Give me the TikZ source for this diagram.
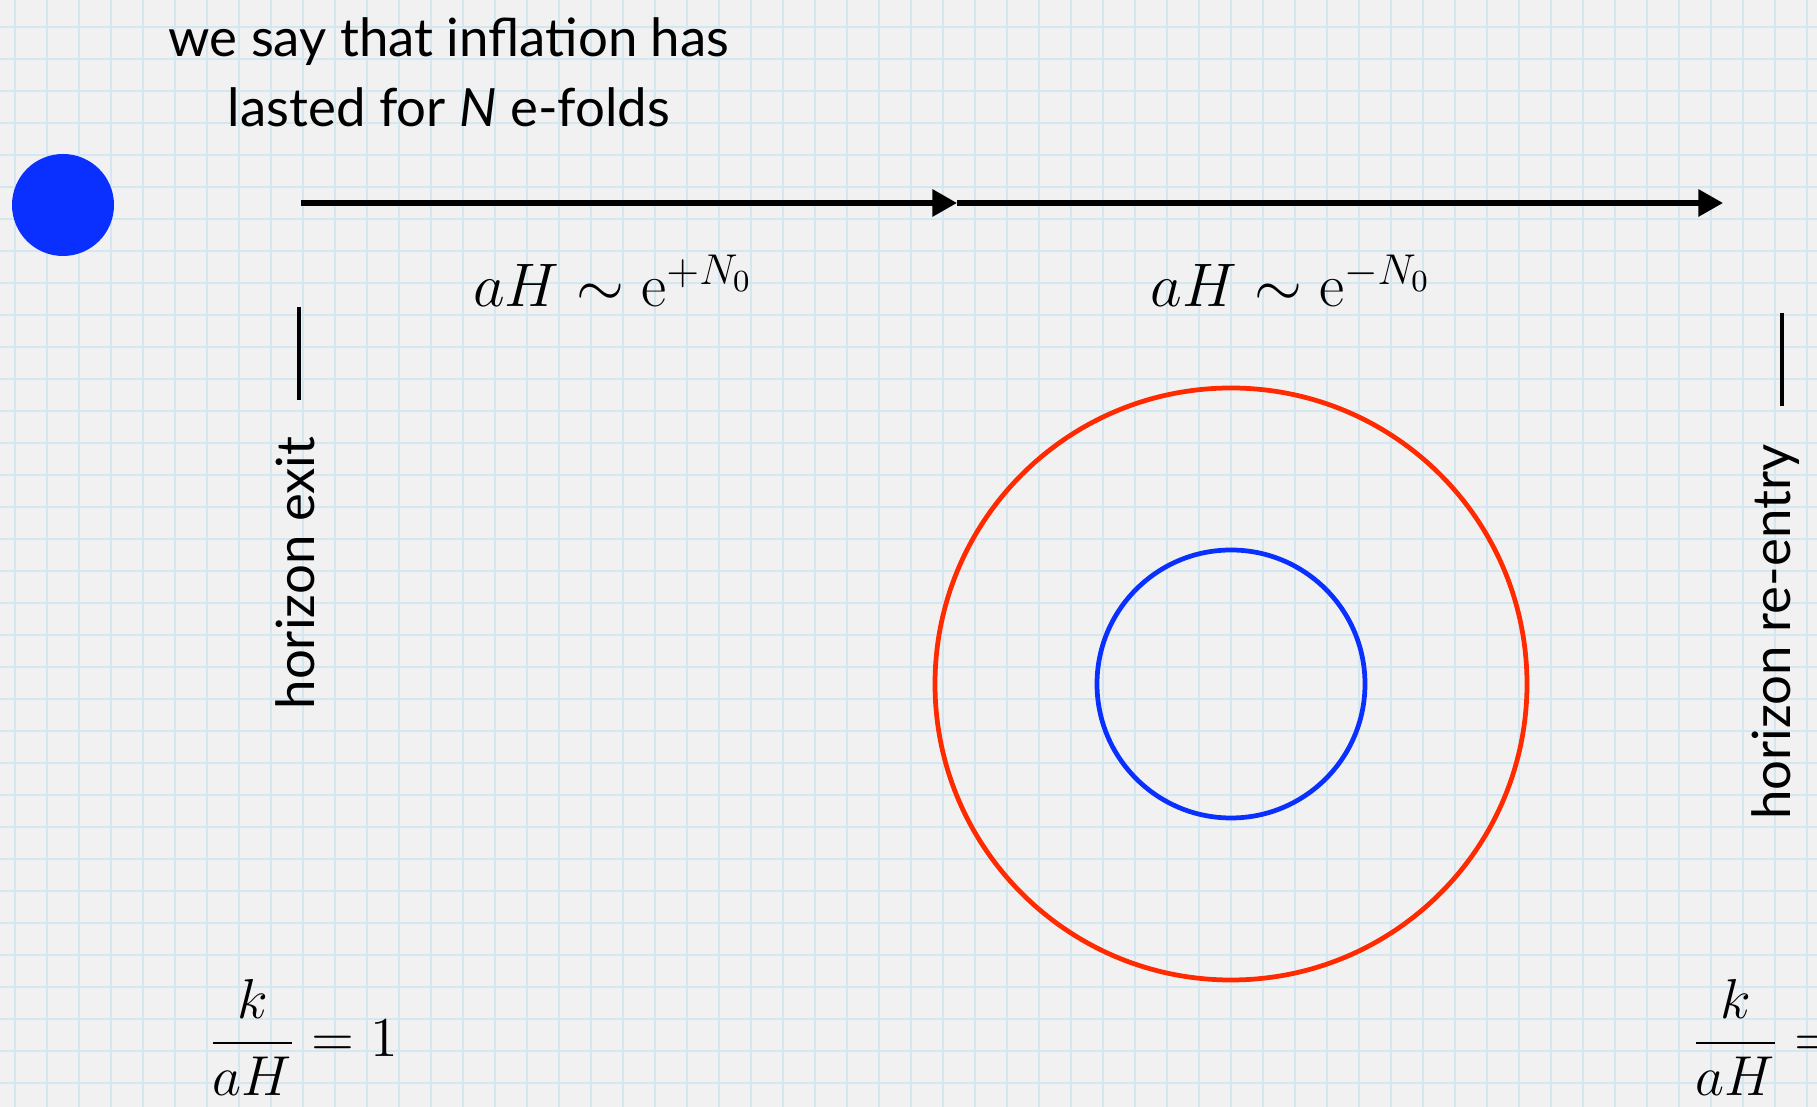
\documentclass[tikz,border=0pt]{standalone}
\usepackage{fix-cm}
\usepackage[no-math]{fontspec}
\setmainfont{Lato}
\usetikzlibrary{arrows.meta,positioning}
\definecolor{paper}{HTML}{F1F1F1}
\definecolor{gridblue}{HTML}{D4E6EF}
\definecolor{modered}{HTML}{FF2A00}
\definecolor{modeblue}{HTML}{0A30FF}
\tikzset{flow/.style={line width=1.45pt, -{Triangle[length=7pt,width=7.5pt]}},
  tick/.style={line width=1.3pt},
  gridline/.style={draw=gridblue, line width=0.45pt},
  lbl/.style={font=\fontsize{15}{20}\selectfont, inner sep=0pt},
  eq/.style={font=\fontsize{16}{20}\selectfont, inner sep=0pt},
  rate/.style={font=\fontsize{17.5}{20}\selectfont, inner sep=0pt}}

\begin{document}
\begin{tikzpicture}[x=0.01cm, y=-0.01cm]
  \clip (0,0) rectangle (1817,1107);
  \fill[paper] (0,0) rectangle (1817,1107);
  % squared paper
  \foreach \gx in {15,47,...,1817} \draw[gridline] (\gx,0) -- (\gx,1107);
  \foreach \gy in {27,59,...,1107} \draw[gridline] (0,\gy) -- (1817,\gy);
  \node[lbl, align=center] (note) at (449,72) {we say that inflation has\\lasted for \textit{N} e-folds};
  \fill[modeblue] (63,205) circle (51);
  % time axis in two stretches
  \coordinate (t0) at (301,203);
  \coordinate (t1) at (957,203);
  \coordinate (t2) at (1723,203);
  \draw[flow] (t0) -- (t1);
  \draw[flow] (t1) -- (t2);
  \node[rate, anchor=base] (grow) at (613,307) {$aH\sim\mathrm{e}^{+N_0}$};
  \node[rate, anchor=base] (shrink) at (1291,307) {$aH\sim\mathrm{e}^{-N_0}$};
  % exit and re-entry markers
  \coordinate (x0) at (299,307);
  \coordinate (x1) at (299,400);
  \coordinate (r0) at (1782,313);
  \coordinate (r1) at (1782,406);
  \draw[tick] (x0) -- (x1);
  \draw[tick] (r0) -- (r1);
  \node[lbl, rotate=90] (exit) at (295,573) {horizon exit};
  \node[lbl, rotate=90] (reentry) at (1776,632) {horizon re-entry};
  % the mode and the horizon
  \coordinate (m) at (1231,684);
  \draw[modered, line width=1.35pt] (m) circle (296);
  \draw[modeblue, line width=1.35pt] (m) circle (134);
  \node[eq, anchor=base west] (cross) at (208,1057) {$\displaystyle\frac{k}{aH}=1$};
  \node[eq, anchor=base west] (recross) at (1691,1057) {$\displaystyle\frac{k}{aH}=1$};
\end{tikzpicture}
\end{document}
